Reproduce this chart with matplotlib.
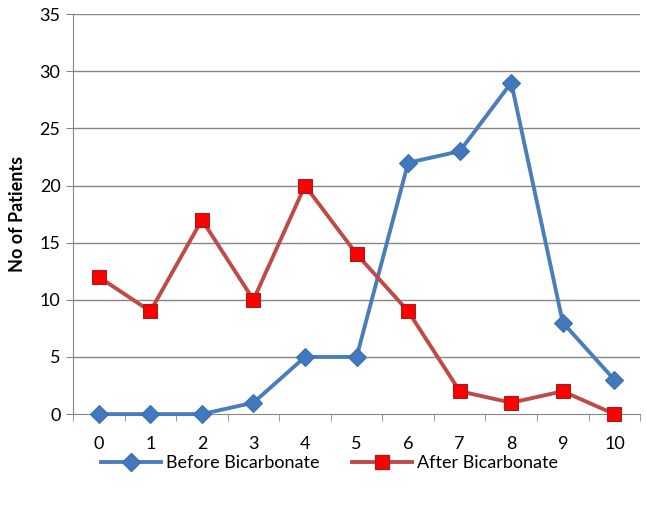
import matplotlib
matplotlib.use("Agg")
import matplotlib.pyplot as plt
from matplotlib.lines import Line2D
import numpy as np

categories = ["0", "1", "2", "3", "4", "5", "6", "7", "8", "9", "10"]
before = [0, 0, 0, 1, 5, 5, 22, 23, 29, 8, 3]
after = [12, 9, 17, 10, 20, 14, 9, 2, 1, 2, 0]
series_names = ["Before Bicarbonate", "After Bicarbonate"]

plt.rcParams['font.family'] = ['Lato', 'DejaVu Sans']

fig = plt.figure(figsize=(6.46, 5.05), dpi=100)
ax = fig.add_axes([0.113, 0.180, 0.878, 0.792])

xs = np.arange(len(categories))

blue_line = "#4A7EBB"
red_line = "#BE4B48"

for yv in range(5, 40, 5):
    ax.axhline(yv, color="#868686", lw=1.0, zorder=0)

ax.plot(xs, before, color=blue_line, lw=2.8, solid_joinstyle='round', zorder=4,
        marker='D', markersize=9.5, markerfacecolor="#4178BE",
        markeredgecolor="#3A6FB0", markeredgewidth=0.8, clip_on=False)
ax.plot(xs, after, color=red_line, lw=2.8, solid_joinstyle='round', zorder=5,
        marker='s', markersize=10.5, markerfacecolor="#FF0000",
        markeredgecolor="#A02020", markeredgewidth=0.8, clip_on=False)

ax.set_xlim(-0.5, len(categories) - 0.5)
ax.set_ylim(0, 35)
ax.set_yticks(range(0, 40, 5))
ax.set_xticks(xs)
ax.set_xticklabels(categories)
ax.set_xticks(np.arange(-0.5, len(categories), 1.0), minor=True)
ax.tick_params(axis='x', which='major', length=0, pad=16, labelsize=13)
ax.tick_params(axis='x', which='minor', length=5, color="#868686", direction='out')
ax.tick_params(axis='y', length=5, color="#868686", labelsize=13, pad=4)

for s in ['top', 'right']:
    ax.spines[s].set_visible(False)
ax.spines['left'].set_color("#868686")
ax.spines['bottom'].set_color("#868686")
ax.spines['left'].set_zorder(1)
ax.spines['bottom'].set_zorder(1)

ax.set_ylabel("No of Patients", fontsize=13, fontweight='bold', labelpad=10)

handles = [
    Line2D([0], [0], color=blue_line, lw=2.8, marker='D', markersize=9.5,
           markerfacecolor="#4178BE", markeredgecolor="#3A6FB0"),
    Line2D([0], [0], color=red_line, lw=2.8, marker='s', markersize=10.5,
           markerfacecolor="#FF0000", markeredgecolor="#A02020"),
]
fig.legend(handles, series_names, loc='center', bbox_to_anchor=(0.51, 0.083),
           ncol=2, frameon=False, fontsize=13, handlelength=3.3,
           columnspacing=1.8, handletextpad=0.3)

fig.savefig("out.png", dpi=100)
